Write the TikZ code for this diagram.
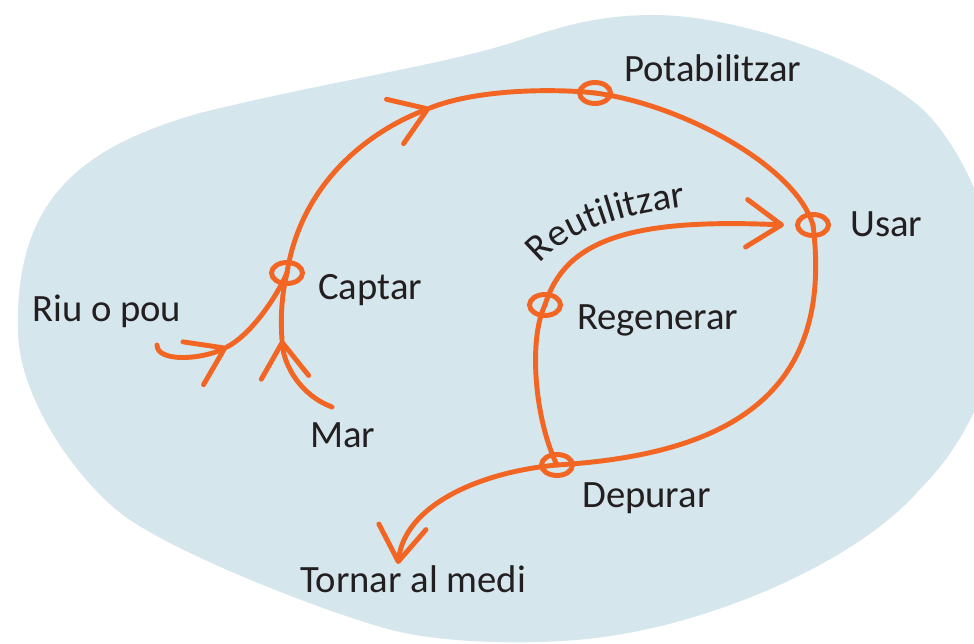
\documentclass[tikz,border=0pt]{standalone}
\usepackage{fontspec}
\setmainfont{Carlito}
\usetikzlibrary{arrows.meta, shapes.geometric, decorations.text}
\definecolor{water}{HTML}{D5E6EC}
\definecolor{pipe}{HTML}{F26522}
\definecolor{ink}{HTML}{231F20}
\tikzset{
	stage/.style={draw=pipe, ellipse, line width=2.8pt, minimum width=0.62cm, minimum height=0.42cm, inner sep=0pt},
	flow/.style={pipe, line width=2.8pt, line cap=round, line join=round},
	barb/.style={-{Straight Barb[length=0.7cm, width=0.95cm, round]}},
	% text next to the stages
	tag/.style={anchor=base west, text=ink, inner sep=0pt, font=\fontsize{22}{26}\selectfont},
}

\begin{document}
\begin{tikzpicture}[x=0.02cm, y=-0.02cm]
	\useasboundingbox (0,0) rectangle (974,644);
	
	% blue blob behind
	\begin{scope}
		\clip (0,0) rectangle (974,644);
		\fill[water] (18,330) .. controls (15,200) and (80,147) .. (200,113)
			.. controls (300,88) and (420,68) .. (487,50)
			.. controls (542,35) and (580,15) .. (654,15)
			.. controls (730,15) and (860,55) .. (920,107)
			.. controls (960,142) and (1000,230) .. (1000,300)
			.. controls (1000,380) and (960,450) .. (920,489)
			.. controls (865,555) and (720,625) .. (587,639)
			.. controls (527,645) and (450,643) .. (400,632)
			.. controls (350,621) and (200,565) .. (133,522)
			.. controls (83,490) and (18,400) .. cycle;
	\end{scope}
	
	\node (capt) [stage] at (287,273) {};
	\node (pota) [stage] at (595,93) {};
	\node (usar) [stage] at (813,225) {};
	\node (rege) [stage] at (545,305) {};
	\node (depu) [stage] at (557,465) {};
	
	\coordinate (riu) at (157,345);
	\coordinate (mar) at (332,407);
	\coordinate (tipriu) at (227,347);
	\coordinate (tipmar) at (282,340);
	\coordinate (tippota) at (430,108);
	\coordinate (tipreut) at (784,225);
	\coordinate (tipmedi) at (398,564);
	
	\node (lpota) [tag] at (624,82) {Potabilitzar};
	\node (lusar) [tag] at (850,237) {Usar};
	\node (lcapt) [tag] at (318,300) {Captar};
	\node (lriu) [tag] at (32,322) {Riu o pou};
	\node (lmar) [tag] at (310,448) {Mar};
	\node (lrege) [tag] at (577,330) {Regenerar};
	\node (ldepu) [tag] at (582,508) {Depurar};
	\node (lmedi) [tag] at (300,593) {Tornar al medi};
	
	\begin{scope}[flow]
		\draw[barb] (riu) .. controls (157,362) and (200,360) .. (tipriu);
		\draw (tipriu) .. controls (250,335) and (275,300) .. (capt.center);
		\draw[barb] (mar) .. controls (300,395) and (284,365) .. (tipmar);
		\draw (tipmar) .. controls (280,310) and (283,290) .. (capt.center);
		\draw[barb] (capt.center) .. controls (300,190) and (360,135) .. (tippota);
		\draw (tippota) .. controls (480,88) and (560,89) .. (pota.center);
		\draw (pota.center) .. controls (680,104) and (795,165) .. (usar.center);
		\draw (usar.center) .. controls (835,400) and (720,455) .. (depu.center);
		\draw[barb] (depu.center) .. controls (480,472) and (405,505) .. (tipmedi);
		\draw (depu.center) .. controls (535,420) and (528,340) .. (rege.center);
		\draw[barb] (rege.center) .. controls (565,240) and (630,218) .. (tipreut);
	\end{scope}
	
	\path[decorate, decoration={text along path, text color=ink, text align=left,
		text={|\fontsize{22}{26}\selectfont|Reutilitzar}}]
		(540,264) .. controls (565,235) and (615,212) .. (715,203);
	
\end{tikzpicture}
\end{document}
